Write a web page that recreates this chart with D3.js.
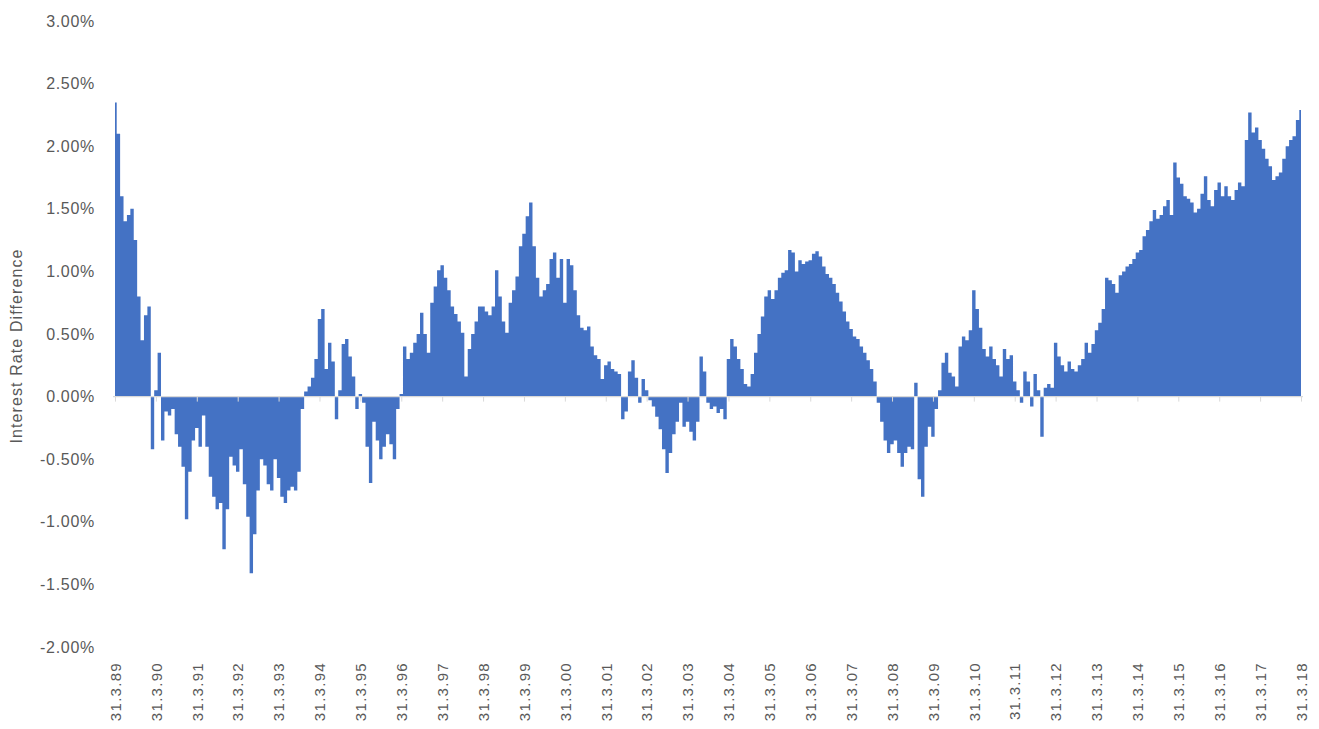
<!DOCTYPE html>
<html>
<head>
<meta charset="utf-8">
<title>Interest Rate Difference</title>
<script src="https://cdn.jsdelivr.net/npm/d3@7"></script>
<style>
  body { margin: 0; background: #fff; }
  text { font-family: "Liberation Sans", Arial, sans-serif; fill: #595959; }
</style>
</head>
<body>
<div id="chart"></div>
<script>
// monthly readings, first one at 31.3.89, last one at 31.3.18 (in %)
var diffValues = [
  // 1989
  2.35, 2.1, 1.6, 1.4, 1.45, 1.5, 1.25, 0.8, 0.45, 0.65, 0.72, -0.42,
  // 1990
  0.05, 0.35, -0.35, -0.12, -0.15, -0.1, -0.3, -0.4, -0.56, -0.98, -0.6, -0.35,
  // 1991
  -0.25, -0.4, -0.15, -0.4, -0.64, -0.8, -0.9, -0.85, -1.22, -0.9, -0.48, -0.55,
  // 1992
  -0.6, -0.42, -0.7, -0.96, -1.41, -1.1, -0.75, -0.5, -0.55, -0.7, -0.75, -0.5,
  // 1993
  -0.65, -0.8, -0.85, -0.75, -0.72, -0.75, -0.6, -0.1, 0.04, 0.08, 0.15, 0.3,
  // 1994
  0.62, 0.7, 0.22, 0.43, 0.28, -0.18, 0.05, 0.42, 0.46, 0.32, 0.16, -0.1,
  // 1995
  0.02, -0.05, -0.4, -0.69, -0.2, -0.35, -0.5, -0.4, -0.3, -0.38, -0.5, -0.1,
  // 1996
  0.02, 0.4, 0.3, 0.35, 0.43, 0.5, 0.67, 0.5, 0.35, 0.75, 0.88, 1.01,
  // 1997
  1.05, 0.95, 0.85, 0.72, 0.66, 0.6, 0.51, 0.16, 0.38, 0.5, 0.6, 0.72,
  // 1998
  0.72, 0.68, 0.65, 0.72, 1.01, 0.8, 0.6, 0.51, 0.75, 0.85, 0.96, 1.2,
  // 1999
  1.3, 1.44, 1.55, 1.2, 0.95, 0.8, 0.85, 0.9, 1.1, 1.15, 0.95, 1.1,
  // 2000
  0.75, 1.1, 1.05, 0.85, 0.65, 0.55, 0.53, 0.56, 0.4, 0.33, 0.3, 0.14,
  // 2001
  0.25, 0.28, 0.22, 0.2, 0.18, -0.18, -0.12, 0.2, 0.29, 0.15, -0.05, 0.14,
  // 2002
  0.05, -0.03, -0.08, -0.16, -0.26, -0.42, -0.61, -0.45, -0.3, -0.2, -0.05, -0.24,
  // 2003
  -0.2, -0.28, -0.35, -0.2, 0.32, 0.2, -0.05, -0.1, -0.08, -0.13, -0.1, -0.18,
  // 2004
  0.3, 0.46, 0.4, 0.3, 0.22, 0.1, 0.08, 0.18, 0.35, 0.5, 0.64, 0.8,
  // 2005
  0.85, 0.78, 0.85, 0.95, 0.99, 1.01, 1.17, 1.15, 1.0, 1.09, 1.06, 1.08,
  // 2006
  1.09, 1.14, 1.16, 1.12, 1.04, 0.98, 0.95, 0.9, 0.83, 0.76, 0.68, 0.6,
  // 2007
  0.54, 0.48, 0.46, 0.4, 0.35, 0.29, 0.22, 0.12, -0.05, -0.2, -0.35, -0.45,
  // 2008
  -0.38, -0.35, -0.45, -0.56, -0.45, -0.4, -0.42, 0.11, -0.66, -0.8, -0.4, -0.24,
  // 2009
  -0.32, -0.1, 0.05, 0.27, 0.35, 0.19, 0.16, 0.08, 0.4, 0.48, 0.45, 0.53,
  // 2010
  0.85, 0.7, 0.55, 0.38, 0.32, 0.4, 0.3, 0.25, 0.16, 0.38, 0.3, 0.33,
  // 2011
  0.12, 0.05, -0.05, 0.2, 0.12, -0.08, 0.18, 0.05, -0.32, 0.07, 0.1, 0.07,
  // 2012
  0.43, 0.32, 0.25, 0.2, 0.28, 0.22, 0.2, 0.25, 0.3, 0.43, 0.35, 0.42,
  // 2013
  0.53, 0.59, 0.7, 0.95, 0.93, 0.9, 0.83, 0.97, 1.0, 1.04, 1.06, 1.1,
  // 2014
  1.15, 1.17, 1.28, 1.33, 1.4, 1.49, 1.42, 1.45, 1.52, 1.57, 1.45, 1.87,
  // 2015
  1.75, 1.7, 1.6, 1.58, 1.55, 1.47, 1.5, 1.62, 1.76, 1.57, 1.52, 1.65,
  // 2016
  1.71, 1.6, 1.68, 1.6, 1.57, 1.65, 1.71, 1.68, 2.05, 2.27, 2.11, 2.15,
  // 2017
  2.05, 1.98, 1.9, 1.84, 1.73, 1.76, 1.79, 1.9, 2.0, 2.05, 2.08, 2.21,
  // 2018
  2.29
];

var yTicks = [-2, -1.5, -1, -0.5, 0, 0.5, 1, 1.5, 2, 2.5, 3];

var yearLabels = ["31.3.89", "31.3.90", "31.3.91", "31.3.92", "31.3.93", "31.3.94",
  "31.3.95", "31.3.96", "31.3.97", "31.3.98", "31.3.99", "31.3.00", "31.3.01",
  "31.3.02", "31.3.03", "31.3.04", "31.3.05", "31.3.06", "31.3.07", "31.3.08",
  "31.3.09", "31.3.10", "31.3.11", "31.3.12", "31.3.13", "31.3.14", "31.3.15",
  "31.3.16", "31.3.17", "31.3.18"];

var width = 1319,
    height = 729;

var svg = d3.select('#chart').append('svg')
    .attr('width', width)
    .attr('height', height);

// month index -> pixel
var x = d3.scaleLinear()
    .domain([0, diffValues.length - 1])
    .range([115, 1301]);

var y = d3.scaleLinear()
    .domain([-2, 3])
    .range([647, 21]);

var area = d3.area()
    .x(function(d, i) { return x(i); })
    .y0(y(0))
    .y1(function(d) { return y(d); })
    .curve(d3.curveStep);

svg.append('path')
    .datum(diffValues)
    .attr('fill', '#4472C4')
    .attr('d', area);

// zero line with year ticks
var yearIdx = yearLabels.map(function(d, i) { return i * 12; });

var zeroAxis = svg.append('g')
    .attr('transform', 'translate(0,' + y(0) + ')')
    .call(d3.axisBottom(x).tickValues(yearIdx).tickFormat('').tickSize(5).tickSizeOuter(0));
zeroAxis.select('.domain').attr('stroke', '#d9d9d9').attr('stroke-width', 1.3)
    .attr('d', 'M113,0H1303');
zeroAxis.selectAll('.tick line').attr('stroke', '#d9d9d9');

// year labels at the bottom
var labelAxis = svg.append('g')
    .attr('transform', 'translate(0,656)')
    .call(d3.axisBottom(x).tickValues(yearIdx)
      .tickFormat(function(d, i) { return yearLabels[i]; })
      .tickSize(0));
labelAxis.select('.domain').remove();
labelAxis.selectAll('text')
    .attr('transform', 'rotate(-90)')
    .attr('text-anchor', 'end')
    .attr('x', -6)
    .attr('y', 0)
    .attr('dy', '0.35em')
    .style('font-size', '15px')
    .style('letter-spacing', '1.3px')
    .style('fill', '#595959');

// y axis labels
var yAxis = svg.append('g')
    .attr('transform', 'translate(98,0)')
    .call(d3.axisLeft(y).tickValues(yTicks)
      .tickFormat(function(d) { return d.toFixed(2) + '%'; })
      .tickSize(0).tickPadding(3));
yAxis.select('.domain').remove();
yAxis.selectAll('text')
    .style('font-size', '16px')
    .style('letter-spacing', '0.7px')
    .style('fill', '#595959');

svg.append('text')
    .attr('transform', 'translate(22,346) rotate(-90)')
    .attr('text-anchor', 'middle')
    .style('font-size', '16px')
    .style('letter-spacing', '1.1px')
    .text('Interest Rate Difference');
</script>
</body>
</html>
